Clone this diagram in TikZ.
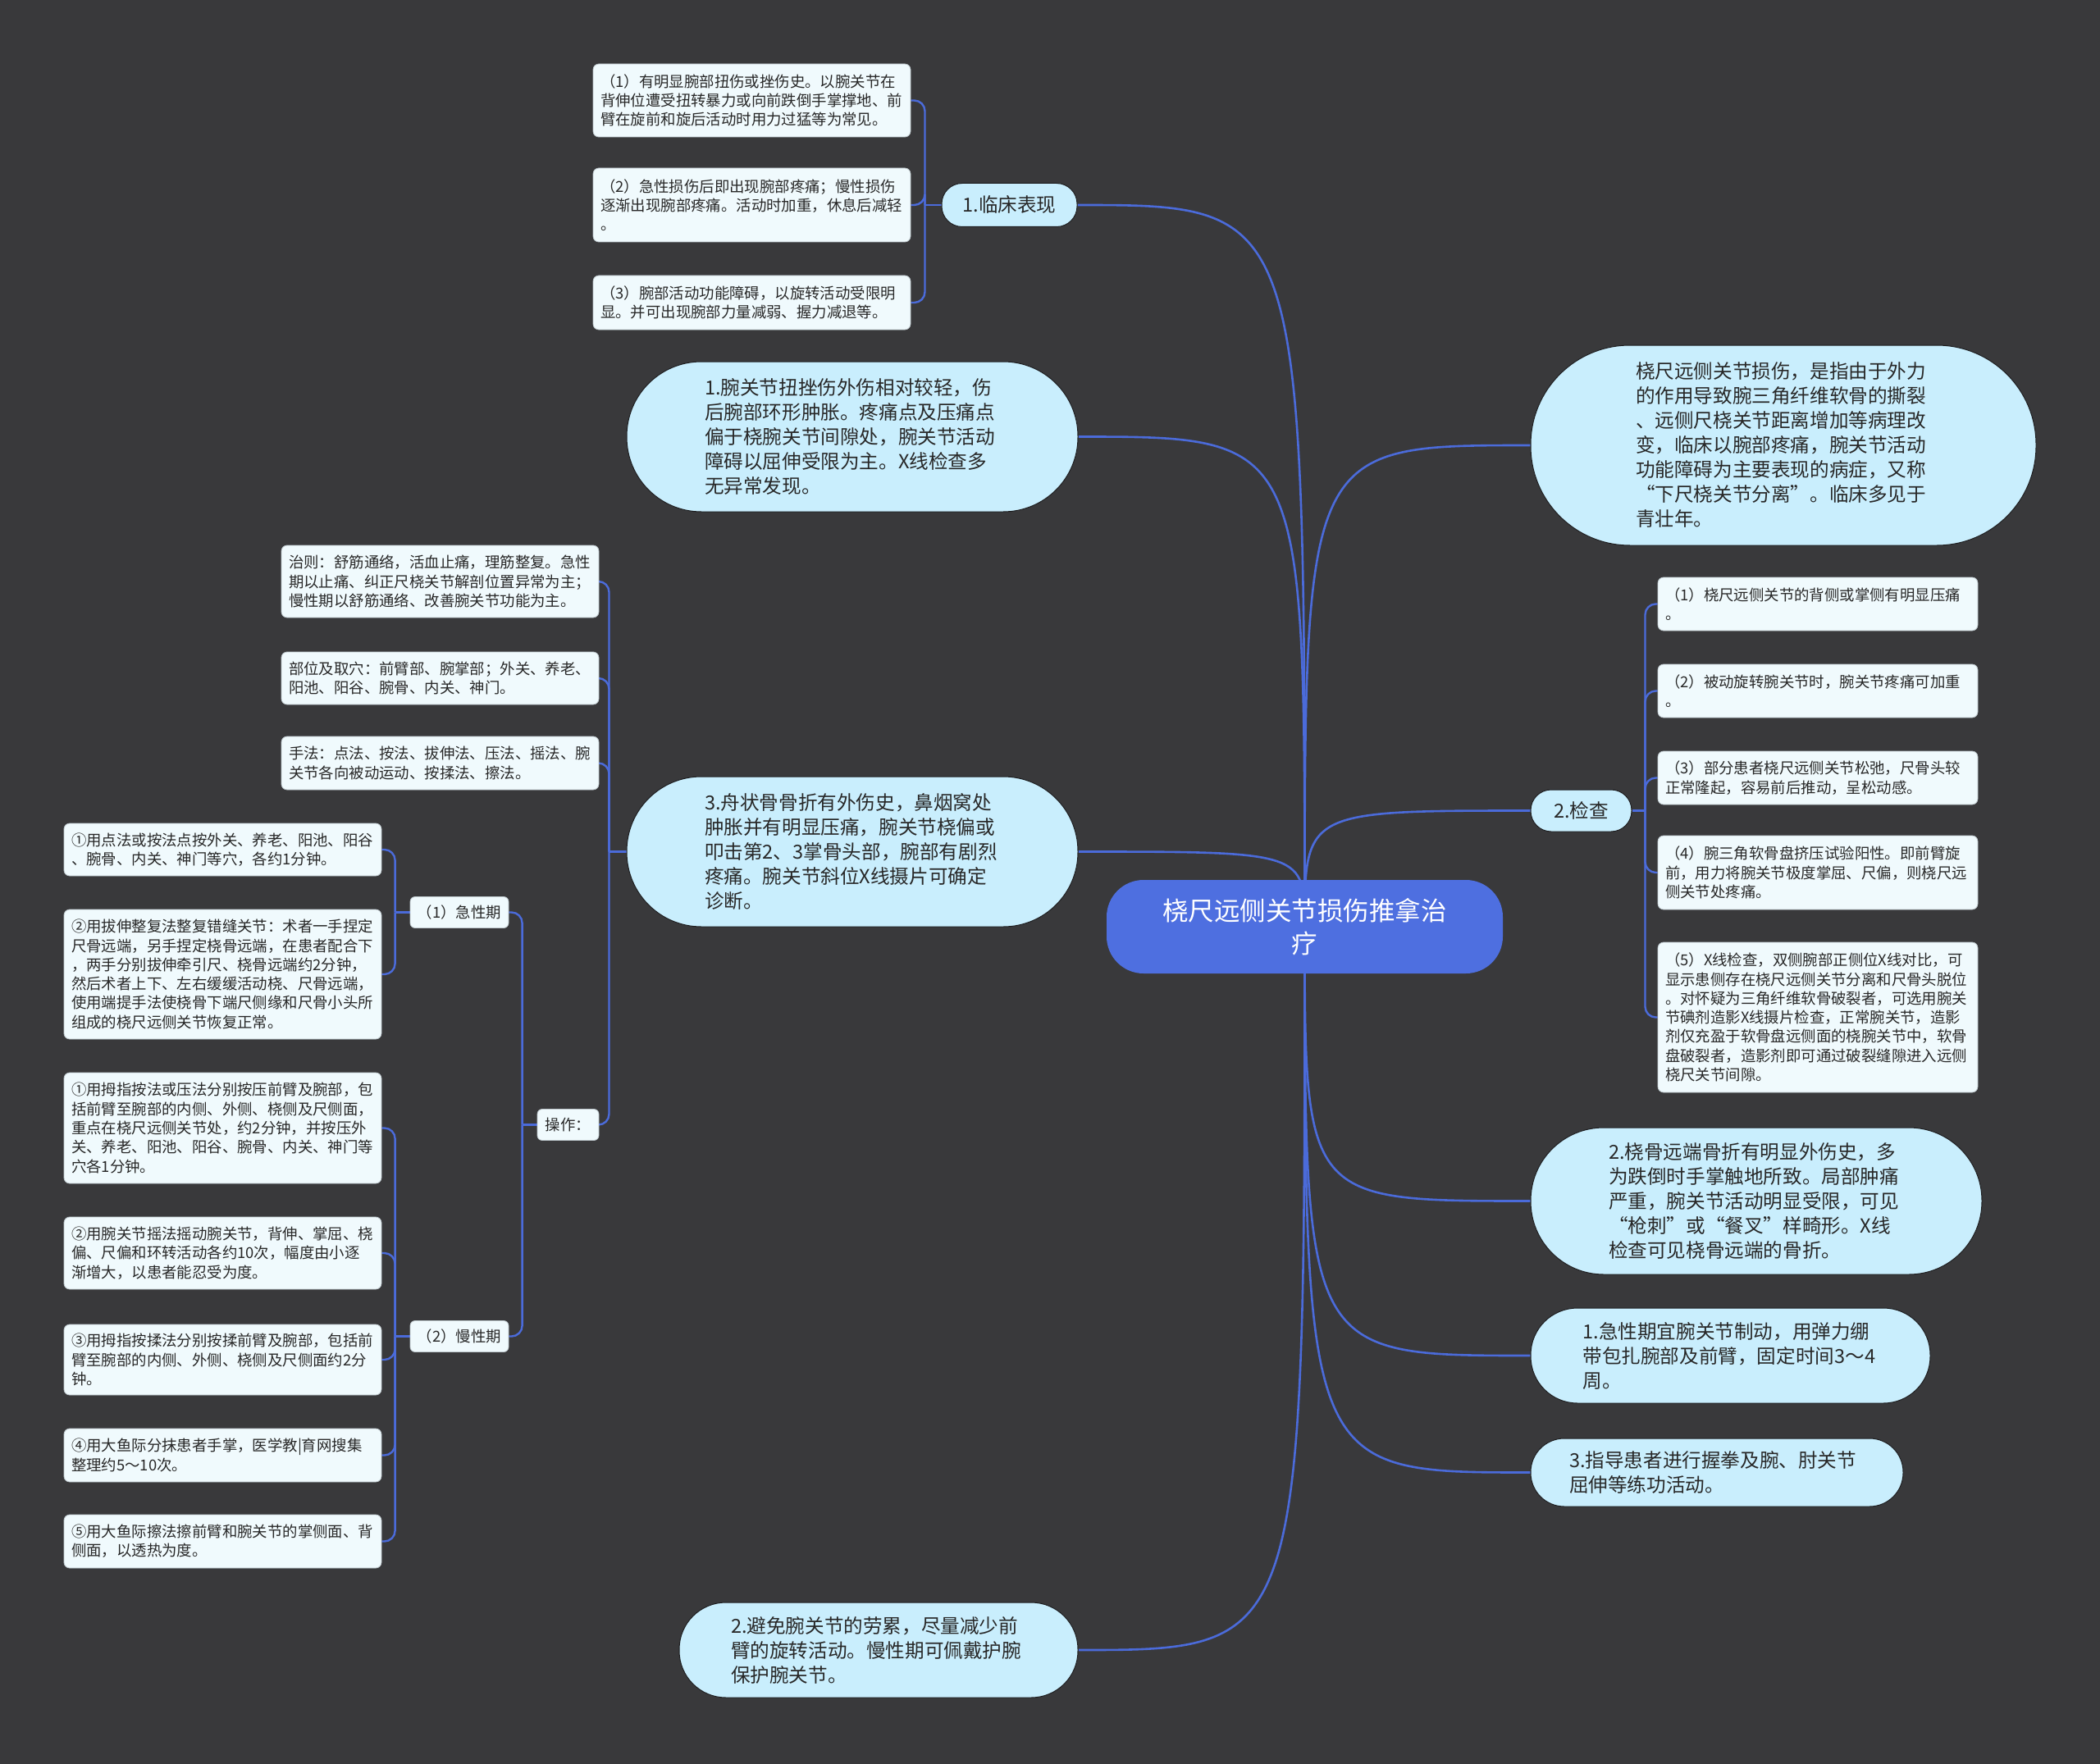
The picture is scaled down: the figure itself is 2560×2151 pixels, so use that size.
\documentclass[tikz,border=0pt]{standalone}
\usepackage{fontspec}
\setmainfont{Noto Sans CJK SC}
\usetikzlibrary{backgrounds}
\definecolor{mapbg}{RGB}{57,57,59}
\definecolor{rootblue}{RGB}{78,111,224}
\definecolor{edgeblue}{RGB}{75,107,218}
\definecolor{bubblefill}{RGB}{201,238,253}
\definecolor{bubbleline}{RGB}{30,30,32}
\definecolor{leaffill}{RGB}{240,250,253}
\definecolor{leafline}{RGB}{190,200,205}
\definecolor{inktext}{RGB}{40,40,40}

\begin{document}
\begin{tikzpicture}[
  x=1pt,y=-1pt,
  rootbox/.style={fill=rootblue,rounded corners=45pt,text=white,align=center,text width=400pt,minimum width=483pt,minimum height=114pt,font=\fontsize{31.5}{40}\selectfont},
  bubble/.style={fill=bubblefill,draw=bubbleline,line width=1pt,rounded corners=#1,text=inktext,align=left,text width=360pt,inner ysep=4pt,font=\fontsize{23.6}{30}\selectfont},
  pill/.style={fill=bubblefill,draw=bubbleline,line width=1pt,rounded corners=25pt,text=inktext,align=center,inner sep=0pt,font=\fontsize{23.6}{30}\selectfont},
  leaf/.style={fill=leaffill,draw=leafline,line width=0.8pt,rounded corners=7pt,text=inktext,align=left,text width=369pt,inner xsep=9pt,inner ysep=4pt,font=\fontsize{18.4}{23.3}\selectfont},
  tagbox/.style={fill=leaffill,draw=leafline,line width=0.8pt,rounded corners=6pt,text=inktext,align=center,inner sep=0pt,minimum height=38pt,font=\fontsize{18.4}{23.3}\selectfont},
  branch/.style={draw=edgeblue,line width=2.6pt},
  elbow/.style={draw=edgeblue,line width=2.4pt,rounded corners=13pt}
]
\useasboundingbox (0,0) rectangle (2560,2151);
\begin{scope}[on background layer]
  \fill[mapbg] (0,0) rectangle (2560,2151);
\end{scope}
% ---------------- root ----------------
\node[rootbox] (root) at (1590.5,1130) {桡尺远侧关节损伤推拿治\\疗};
% ---------------- left branches ----------------
\node[pill,minimum width=165pt,minimum height=53pt] (clin) at (1230.5,250) {1.临床表现};
\node[leaf,minimum height=89pt] (clin1) at (916.5,122.5) {（1）有明显腕部扭伤或挫伤史。以腕关节在\\背伸位遭受扭转暴力或向前跌倒手掌撑地、前\\臂在旋前和旋后活动时用力过猛等为常见。};
\node[leaf,minimum height=90pt] (clin2) at (916.5,250) {（2）急性损伤后即出现腕部疼痛；慢性损伤\\逐渐出现腕部疼痛。活动时加重，休息后减轻\\。};
\node[leaf,minimum height=66pt] (clin3) at (916.5,369) {（3）腕部活动功能障碍，以旋转活动受限明\\显。并可出现腕部力量减弱、握力减退等。};

\node[bubble=91pt,minimum width=550pt,minimum height=183pt] (sprain) at (1039,532.5) {1.腕关节扭挫伤外伤相对较轻，伤\\后腕部环形肿胀。疼痛点及压痛点\\偏于桡腕关节间隙处，腕关节活动\\障碍以屈伸受限为主。X线检查多\\无异常发现。};

\node[bubble=91pt,minimum width=550pt,minimum height=183pt] (scaph) at (1039,1038.5) {3.舟状骨骨折有外伤史，鼻烟窝处\\肿胀并有明显压痛，腕关节桡偏或\\叩击第2、3掌骨头部，腕部有剧烈\\疼痛。腕关节斜位X线摄片可确定\\诊断。};
\node[leaf,minimum height=88pt] (rule) at (536.5,709) {治则：舒筋通络，活血止痛，理筋整复。急性\\期以止痛、纠正尺桡关节解剖位置异常为主；\\慢性期以舒筋通络、改善腕关节功能为主。};
\node[leaf,minimum height=64pt] (point) at (536.5,827) {部位及取穴：前臂部、腕掌部；外关、养老、\\阳池、阳谷、腕骨、内关、神门。};
\node[leaf,minimum height=65pt] (hand) at (536.5,930.5) {手法：点法、按法、拔伸法、压法、摇法、腕\\关节各向被动运动、按揉法、擦法。};
\node[tagbox,minimum width=75pt] (oper) at (692.5,1371.5) {操作：};

\node[tagbox,minimum width=120pt] (acutephase) at (560,1112.5) {（1）急性期};
\node[leaf,minimum height=64pt] (ac1) at (271.5,1036) {①用点法或按法点按外关、养老、阳池、阳谷\\、腕骨、内关、神门等穴，各约1分钟。};
\node[leaf,minimum height=158pt] (ac2) at (271.5,1188) {②用拔伸整复法整复错缝关节：术者一手捏定\\尺骨远端，另手捏定桡骨远端，在患者配合下\\，两手分别拔伸牵引尺、桡骨远端约2分钟，\\然后术者上下、左右缓缓活动桡、尺骨远端，\\使用端提手法使桡骨下端尺侧缘和尺骨小头所\\组成的桡尺远侧关节恢复正常。};

\node[tagbox,minimum width=120pt] (chronic) at (560,1629.5) {（2）慢性期};
\node[leaf,minimum height=135pt] (ch1) at (271.5,1375.5) {①用拇指按法或压法分别按压前臂及腕部，包\\括前臂至腕部的内侧、外侧、桡侧及尺侧面，\\重点在桡尺远侧关节处，约2分钟，并按压外\\关、养老、阳池、阳谷、腕骨、内关、神门等\\穴各1分钟。};
\node[leaf,minimum height=88pt] (ch2) at (271.5,1528) {②用腕关节摇法摇动腕关节，背伸、掌屈、桡\\偏、尺偏和环转活动各约10次，幅度由小逐\\渐增大，以患者能忍受为度。};
\node[leaf,minimum height=86pt] (ch3) at (271.5,1658) {③用拇指按揉法分别按揉前臂及腕部，包括前\\臂至腕部的内侧、外侧、桡侧及尺侧面约2分\\钟。};
\node[leaf,minimum height=65pt] (ch4) at (271.5,1774.5) {④用大鱼际分抹患者手掌，医学教|育网搜集\\整理约5～10次。};
\node[leaf,minimum height=65pt] (ch5) at (271.5,1879.5) {⑤用大鱼际擦法擦前臂和腕关节的掌侧面、背\\侧面，以透热为度。};

\node[bubble=57pt,minimum width=486pt,minimum height=116pt] (avoid) at (1071,2012) {2.避免腕关节的劳累，尽量减少前\\臂的旋转活动。慢性期可佩戴护腕\\保护腕关节。};
% ---------------- right branches ----------------
\node[bubble=121pt,minimum width=616pt,minimum height=244pt] (defn) at (2174,543) {桡尺远侧关节损伤，是指由于外力\\的作用导致腕三角纤维软骨的撕裂\\、远侧尺桡关节距离增加等病理改\\变，临床以腕部疼痛，腕关节活动\\功能障碍为主要表现的病症，又称\\“下尺桡关节分离”。临床多见于\\青壮年。};

\node[pill,minimum width=123pt,minimum height=51pt] (exam) at (1927.5,988.5) {2.检查};
\node[leaf,text width=372pt,minimum height=65pt] (ex1) at (2216,736.5) {（1）桡尺远侧关节的背侧或掌侧有明显压痛\\。};
\node[leaf,text width=372pt,minimum height=65pt] (ex2) at (2216,842.5) {（2）被动旋转腕关节时，腕关节疼痛可加重\\。};
\node[leaf,text width=372pt,minimum height=65pt] (ex3) at (2216,948.5) {（3）部分患者桡尺远侧关节松弛，尺骨头较\\正常隆起，容易前后推动，呈松动感。};
\node[leaf,text width=372pt,minimum height=90pt] (ex4) at (2216,1064) {（4）腕三角软骨盘挤压试验阳性。即前臂旋\\前，用力将腕关节极度掌屈、尺偏，则桡尺远\\侧关节处疼痛。};
\node[leaf,text width=372pt,minimum height=183pt] (ex5) at (2216,1240.5) {（5）X线检查，双侧腕部正侧位X线对比，可\\显示患侧存在桡尺远侧关节分离和尺骨头脱位\\。对怀疑为三角纤维软骨破裂者，可选用腕关\\节碘剂造影X线摄片检查，正常腕关节，造影\\剂仅充盈于软骨盘远侧面的桡腕关节中，软骨\\盘破裂者，造影剂即可通过破裂缝隙进入远侧\\桡尺关节间隙。};

\node[bubble=89pt,minimum width=550pt,minimum height=179pt] (radfx) at (2141,1464.5) {2.桡骨远端骨折有明显外伤史，多\\为跌倒时手掌触地所致。局部肿痛\\严重，腕关节活动明显受限，可见\\“枪刺”或“餐叉”样畸形。X线\\检查可见桡骨远端的骨折。};
\node[bubble=57pt,minimum width=487pt,minimum height=116pt] (acute) at (2109.5,1653) {1.急性期宜腕关节制动，用弹力绷\\带包扎腕部及前臂，固定时间3～4\\周。};
\node[bubble=41pt,minimum width=454pt,minimum height=83pt] (rehab) at (2093,1795.5) {3.指导患者进行握拳及腕、肘关节\\屈伸等练功活动。};
% ---------------- connectors ----------------
\coordinate (k1) at ([xshift=-20pt]clin.west);
\coordinate (k2) at ([xshift=-21pt]scaph.west);
\coordinate (k3) at ([xshift=-18pt]oper.west);
\coordinate (k4) at ([xshift=-18pt]acutephase.west);
\coordinate (k5) at ([xshift=-18pt]chronic.west);
\coordinate (k6) at ([xshift=16pt]exam.east);
\begin{scope}[on background layer]
  \foreach \tgt/\side in {clin/east,sprain/east,scaph/east,avoid/east,defn/west,exam/west,radfx/west,acute/west,rehab/west}
    \draw[branch] (root.center) .. controls (root.center |- \tgt.\side) .. (\tgt.\side);
  \draw[branch] (clin.west) -- (k1);
  \foreach \leafname in {clin1,clin2,clin3} \draw[elbow] (k1) |- (\leafname.east);
  \draw[branch] (scaph.west) -- (k2);
  \foreach \leafname in {rule,point,hand,oper} \draw[elbow] (k2) |- (\leafname.east);
  \draw[branch] (oper.west) -- (k3);
  \foreach \leafname in {acutephase,chronic} \draw[elbow] (k3) |- (\leafname.east);
  \draw[branch] (acutephase.west) -- (k4);
  \foreach \leafname in {ac1,ac2} \draw[elbow] (k4) |- (\leafname.east);
  \draw[branch] (chronic.west) -- (k5);
  \foreach \leafname in {ch1,ch2,ch3,ch4,ch5} \draw[elbow] (k5) |- (\leafname.east);
  \draw[branch] (exam.east) -- (k6);
  \foreach \leafname in {ex1,ex2,ex3,ex4,ex5} \draw[elbow] (k6) |- (\leafname.west);
\end{scope}
\end{tikzpicture}
\end{document}
